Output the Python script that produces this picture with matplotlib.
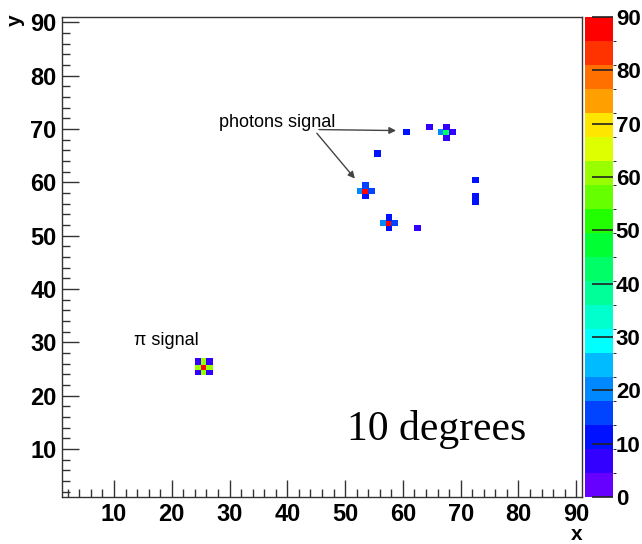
import numpy as np
import matplotlib
matplotlib.use("Agg")
import matplotlib.pyplot as plt
from matplotlib.colors import ListedColormap, BoundaryNorm

plt.rcParams['font.family'] = ['Liberation Sans', 'DejaVu Sans']

# filled cells: (x bin, y bin, content)
cell_x = [24, 25, 26, 24, 25, 26, 24, 25, 26,
          53, 52, 54, 53, 53,
          57, 56, 58, 57, 57,
          67, 66, 68, 67, 67,
          60, 64, 55, 72, 72, 72, 62]
cell_y = [24, 24, 24, 25, 25, 25, 26, 26, 26,
          58, 58, 58, 59, 57,
          52, 52, 52, 53, 51,
          69, 69, 69, 70, 68,
          69, 70, 65, 60, 57, 56, 51]
cell_v = [7, 60, 7, 60, 88, 60, 7, 60, 7,
          88, 19, 14, 14, 12,
          88, 19, 15, 12, 12,
          43, 21, 8, 6, 6,
          13, 6, 13, 12, 11, 11, 6]

palette = ['#6600FF', '#3300FF', '#0011FF', '#0044FF', '#0088FF',
           '#00BBFF', '#00FFFF', '#00FFCC', '#00FF99', '#00FF66',
           '#00FF33', '#22FF00', '#66FF00', '#99FF00', '#DDFF00',
           '#FFE600', '#FFA000', '#FF7000', '#FF3300', '#FF0000']
levels = np.linspace(0, 90, 21)

edges = np.arange(1, 92)
z = np.zeros((90, 90))
for x, y, v in zip(cell_x, cell_y, cell_v):
    z[y - 1, x - 1] = v
z = np.ma.masked_equal(z, 0)

cmap = ListedColormap(palette)
norm = BoundaryNorm(levels, cmap.N)

fig = plt.figure(figsize=(6.42, 5.44), dpi=100)
ax = fig.add_axes([62/642, 47/544, 520/642, 480/544])
mesh = ax.pcolormesh(edges, edges, z, cmap=cmap, norm=norm,
                     edgecolors='face', linewidth=0.6)
ax.set_xlim(1, 91)
ax.set_ylim(1, 91)

ax.set_xticks(np.arange(10, 91, 10))
ax.set_yticks(np.arange(10, 91, 10))
ax.set_xticks(np.arange(2, 91, 2), minor=True)
ax.set_yticks(np.arange(2, 91, 2), minor=True)
ax.tick_params(which='major', direction='in', length=12, width=1, color='#333333',
               labelsize=17, pad=4)
ax.tick_params(which='minor', direction='in', length=6, width=1, color='#333333')
for lab in ax.get_xticklabels() + ax.get_yticklabels():
    lab.set_fontweight('bold')
for sp in ax.spines.values():
    sp.set_color('#333333')
    sp.set_linewidth(1)

fig.text(577/642, 1 - 535/544, 'x', ha='center', va='center', fontsize=15, fontweight='bold')
fig.text(15/642, 1 - 20/544, 'y', ha='center', va='center', fontsize=15,
         fontweight='bold', rotation=90)

# annotations
ax.text(28.2, 71.2, 'photons signal', fontsize=13, va='center')
ax.annotate('', xy=(59.3, 69.7), xytext=(45.0, 69.9),
            arrowprops=dict(arrowstyle='-|>', color='#444444', lw=1, mutation_scale=10))
ax.annotate('', xy=(52.0, 60.3), xytext=(44.8, 69.6),
            arrowprops=dict(arrowstyle='-|>', color='#444444', lw=1, mutation_scale=10))
ax.text(13.4, 30.3, 'π signal', fontsize=13, va='center')
ax.text(50.3, 13.6, '10 degrees', fontsize=30, va='center',
        family=['Liberation Serif', 'DejaVu Serif'])

cax = fig.add_axes([585/642, 47/544, 28/642, 480/544])
cb = fig.colorbar(mesh, cax=cax, ticks=np.arange(0, 91, 10))
cb.outline.set_visible(False)
cax.tick_params(direction='in', length=15, width=1.2, color='#222222', labelsize=16, pad=2)
for lab in cax.get_yticklabels():
    lab.set_fontweight('bold')

fig.savefig('out.png', dpi=100)
